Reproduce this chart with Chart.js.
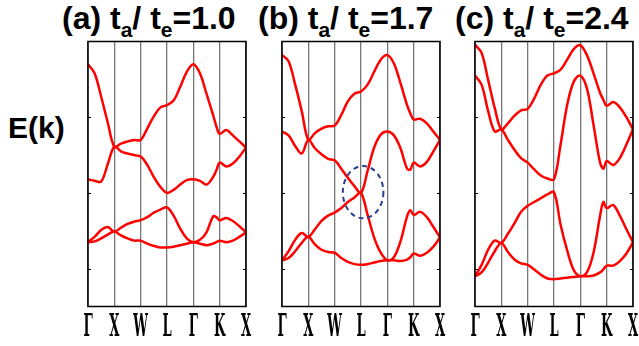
<!DOCTYPE html>
<html>
<head>
<meta charset="utf-8">
<script src="https://cdn.jsdelivr.net/npm/chart.js@4.4.1/dist/chart.umd.min.js"></script>
<style>
  body { margin: 0; width: 639px; height: 346px; background: #fff; position: relative; overflow: hidden;
         font-family: "Liberation Sans", Arial, sans-serif; }
  canvas { position: absolute; top: 40px; }
  .title { position: absolute; top: 2px; font-weight: bold; font-size: 32px; line-height: 1; white-space: nowrap; }
  .title sub { font-size: 21px; vertical-align: -8px; line-height: 0; }
  #ylabel { position: absolute; left: 8px; top: 113px; font-weight: bold; font-size: 30px; line-height: 1; }
</style>
</head>
<body>
<div class="title" style="left:62px">(a) t<sub>a</sub>/ t<sub>e</sub>=1.0</div>
<div class="title" style="left:258px">(b) t<sub>a</sub>/ t<sub>e</sub>=1.7</div>
<div class="title" style="left:455px">(c) t<sub>a</sub>/ t<sub>e</sub>=2.4</div>
<div id="ylabel">E(k)</div>
<canvas id="panelA" width="190" height="306" style="left:68px"></canvas>
<canvas id="panelB" width="190" height="306" style="left:262px"></canvas>
<canvas id="panelC" width="190" height="306" style="left:455px"></canvas>
<script>
// k-path: high-symmetry points sit at integer positions 0..6
const kLabels = ['Γ', 'X', 'W', 'L', 'Γ', 'K', 'X'];
const kSamples = [0, 0.25, 0.5, 0.75, 1, 1.25, 1.5, 1.75, 2, 2.25, 2.5, 2.75, 3,
                  3.25, 3.5, 3.75, 4, 4.25, 4.5, 4.75, 4.875, 5, 5.25, 5.5, 5.75, 6];
const energyTicks = [-1, 0, 1];

// (a) ta/te = 1.0
const bandA1 = [1.70, 1.58, 1.27, 0.93, 0.61, 0.65, 0.68, 0.70, 0.70, 0.85, 1.01, 1.13, 1.16,
                1.22, 1.40, 1.60, 1.70, 1.58, 1.31, 1.03, 0.88, 0.78, 0.83, 0.76, 0.68, 0.60];
const bandA2 = [0.18, 0.16, 0.15, 0.38, 0.61, 0.55, 0.52, 0.50, 0.48, 0.37, 0.21, 0.08, 0.00,
                0.04, 0.11, 0.17, 0.18, 0.16, 0.11, 0.21, 0.30, 0.40, 0.35, 0.39, 0.48, 0.60];
const bandA3 = [-0.65, -0.58, -0.49, -0.45, -0.51, -0.46, -0.41, -0.38, -0.36, -0.32, -0.26, -0.22, -0.19,
                -0.30, -0.47, -0.60, -0.65, -0.62, -0.52, -0.31, -0.32, -0.36, -0.33, -0.37, -0.44, -0.52];
const bandA4 = [-0.65, -0.64, -0.60, -0.55, -0.51, -0.56, -0.60, -0.63, -0.63, -0.67, -0.70, -0.72, -0.72,
                -0.71, -0.69, -0.67, -0.65, -0.67, -0.69, -0.67, -0.65, -0.63, -0.65, -0.63, -0.58, -0.52];

// (b) ta/te = 1.7
const bandB1 = [1.82, 1.74, 1.43, 1.08, 0.70, 0.79, 0.85, 0.88, 0.89, 1.03, 1.21, 1.31, 1.34,
                1.43, 1.60, 1.76, 1.82, 1.71, 1.45, 1.16, 1.05, 0.97, 0.98, 0.92, 0.81, 0.70];
const bandB2 = [0.81, 0.76, 0.62, 0.52, 0.70, 0.59, 0.51, 0.45, 0.43, 0.32, 0.20, 0.09, 0.00,
                0.29, 0.60, 0.77, 0.81, 0.76, 0.59, 0.32, 0.31, 0.40, 0.35, 0.41, 0.55, 0.70];
const bandB3 = [-0.89, -0.77, -0.62, -0.53, -0.58, -0.48, -0.37, -0.30, -0.26, -0.20, -0.12, -0.06, 0.00,
                -0.29, -0.59, -0.79, -0.89, -0.85, -0.64, -0.31, -0.23, -0.29, -0.25, -0.32, -0.45, -0.59];
const bandB4 = [-0.89, -0.86, -0.77, -0.66, -0.58, -0.68, -0.75, -0.78, -0.79, -0.86, -0.91, -0.94, -0.95,
                -0.94, -0.92, -0.90, -0.89, -0.89, -0.90, -0.88, -0.85, -0.80, -0.83, -0.79, -0.71, -0.59];

// (c) ta/te = 2.4
const bandC1 = [1.96, 1.85, 1.49, 1.12, 0.84, 0.92, 1.02, 1.09, 1.11, 1.25, 1.43, 1.55, 1.58,
                1.63, 1.76, 1.90, 1.95, 1.82, 1.58, 1.32, 1.23, 1.15, 1.20, 1.13, 1.00, 0.84];
const bandC2 = [1.55, 1.43, 1.08, 0.81, 0.84, 0.70, 0.57, 0.46, 0.40, 0.31, 0.23, 0.19, 0.18,
                0.64, 1.16, 1.47, 1.55, 1.38, 0.90, 0.40, 0.32, 0.42, 0.37, 0.46, 0.64, 0.84];
const bandC3 = [-1.10, -0.95, -0.75, -0.63, -0.66, -0.54, -0.40, -0.25, -0.17, -0.12, -0.07, -0.02, 0.01,
                -0.42, -0.76, -1.02, -1.10, -1.05, -0.79, -0.30, -0.12, -0.20, -0.16, -0.30, -0.48, -0.65];
const bandC4 = [-1.10, -1.05, -0.92, -0.77, -0.66, -0.78, -0.88, -0.93, -0.95, -1.01, -1.08, -1.13, -1.14,
                -1.13, -1.12, -1.11, -1.10, -1.10, -1.09, -1.05, -1.01, -0.96, -0.96, -0.90, -0.80, -0.65];

// dashed ring around the crossing at L in (b): centre and radii in data units
const ringB = { cx: 3.08, cy: 0.01, rx: 0.77, ry: 0.345 };

const panelDecor = {
  id: 'panelDecor',
  afterDatasetsDraw(chart, args, opts) {
    const { ctx, chartArea: a, scales: { x, y } } = chart;
    ctx.save();

    if (opts.ring) {
      const r = opts.ring;
      const px = x.getPixelForValue(r.cx), py = y.getPixelForValue(r.cy);
      ctx.beginPath();
      ctx.setLineDash([5, 4]);
      ctx.strokeStyle = '#2b3d8f';
      ctx.lineWidth = 2;
      ctx.ellipse(px, py, x.getPixelForValue(r.cx + r.rx) - px, py - y.getPixelForValue(r.cy + r.ry), 0, 0, 2 * Math.PI);
      ctx.stroke();
      ctx.setLineDash([]);
    }

    // small energy ticks on both sides
    ctx.strokeStyle = '#000';
    ctx.lineWidth = 1;
    ctx.beginPath();
    energyTicks.forEach(v => {
      const py = Math.round(y.getPixelForValue(v)) + 0.5;
      ctx.moveTo(a.left, py); ctx.lineTo(a.left + 3, py);
      ctx.moveTo(a.right, py); ctx.lineTo(a.right - 3, py);
    });
    ctx.stroke();

    // frame
    ctx.lineWidth = 1.5;
    ctx.strokeRect(a.left, a.top, a.right - a.left, a.bottom - a.top);

    // condensed k-point labels
    ctx.fillStyle = '#000';
    ctx.font = 'bold 31px "DejaVu Serif", serif';
    ctx.textAlign = 'center';
    ctx.textBaseline = 'alphabetic';
    kLabels.forEach((lab, i) => {
      ctx.save();
      ctx.translate(x.getPixelForValue(i), a.bottom + 29.5);
      ctx.scale(0.42, 1);
      ctx.fillText(lab, 0, 0);
      ctx.restore();
    });
    ctx.restore();
  }
};

function makePanel(id, bands, ring) {
  return new Chart(document.getElementById(id), {
    type: 'line',
    data: {
      datasets: bands.map(b => ({
        data: kSamples.map((k, i) => ({ x: k, y: b[i] })),
        borderColor: '#ff0000',
        borderWidth: 2.5,
        pointRadius: 0,
        tension: 0.35,
        fill: false
      }))
    },
    options: {
      responsive: false,
      animation: false,
      events: [],
      layout: { padding: { left: 12, right: 12, top: 1.5, bottom: 39.5 }, autoPadding: false },
      plugins: {
        legend: { display: false },
        tooltip: { enabled: false },
        panelDecor: { ring }
      },
      scales: {
        x: {
          type: 'linear', min: 0, max: 6,
          ticks: { display: false, stepSize: 1 },
          grid: { color: '#777777', lineWidth: 1.3, drawTicks: false },
          border: { display: false }
        },
        y: {
          min: -1.5, max: 2,
          ticks: { display: false, stepSize: 1 },
          grid: { display: false },
          border: { display: false }
        }
      }
    },
    plugins: [panelDecor]
  });
}

makePanel('panelA', [bandA1, bandA2, bandA3, bandA4], null);
makePanel('panelB', [bandB1, bandB2, bandB3, bandB4], ringB);
makePanel('panelC', [bandC1, bandC2, bandC3, bandC4], null);
</script>
</body>
</html>
